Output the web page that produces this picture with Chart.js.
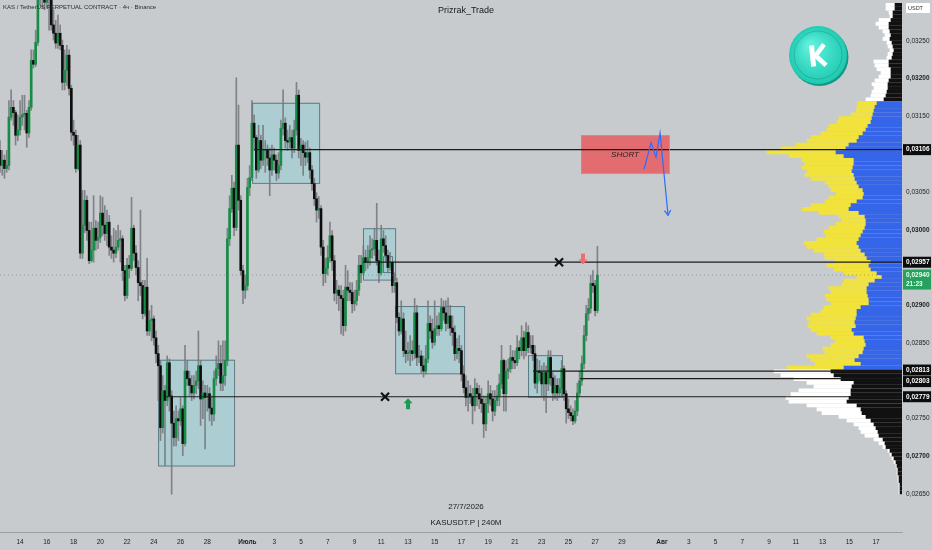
<!DOCTYPE html>
<html>
<head>
<meta charset="utf-8">
<script src="https://cdn.jsdelivr.net/npm/chart.js@4.4.0/dist/chart.umd.min.js"></script>
<style>
  html, body { margin: 0; padding: 0; background: #c8cbce; }
  #wrap { position: relative; width: 932px; height: 550px; }
</style>
</head>
<body>
<div id="wrap"><canvas id="kasChart"></canvas></div>
<script>
// time axis unit: days counted from 1 June 2026 (1 July = 31, 1 Aug = 62)
const firstCandleDay = 12.5;      // 12 June, 12:00
const candleStep = 1 / 6;         // 4h candles
const dayMin = 12.5;
const dayMax = 79.94;
const priceMin = 0.02600;
const priceMax = 0.03304;

// OHLC in 0.00001 USDT; each open is the previous close
const firstOpen = 3105;
const closes = [
  3085,3092,3081,3085,3149,3162,3155,3125,3132,3149,
  3152,3154,3128,3162,3224,3219,3248,3317,3320,3315,
  3301,3311,3308,3271,3260,3247,3260,3244,3195,3211,
  3231,3187,3129,3125,3081,3112,2969,3006,3039,2999,
  2959,2973,3002,2986,2990,3022,3006,2995,3010,2977,
  2973,2969,2977,2986,2988,2946,2913,2953,2949,3002,
  2969,2950,2930,2926,2889,2924,2866,2880,2882,2857,
  2836,2820,2738,2787,2774,2824,2780,2744,2725,2750,
  2747,2763,2717,2813,2803,2794,2784,2794,2800,2820,
  2776,2784,2778,2783,2764,2756,2803,2816,2823,2797,
  2807,2827,2988,3028,3055,3003,3112,3039,2946,2920,
  2926,3056,3069,3141,3122,
  3079,3118,3092,3105,3105,3095,3079,3099,3092,3075,
  3085,3134,3141,3118,3116,3122,3108,3132,3178,3105,
  3112,3102,3096,3102,3079,3061,3041,3026,3028,2977,
  2942,2949,2963,2992,2959,2916,2920,2913,2909,2873,
  2924,2920,2917,2902,2906,2920,2953,2943,2963,2957,
  2963,2973,2975,2986,2959,2943,2988,2979,2966,2950,
  2957,2926,2930,2884,2866,2882,2840,2836,2837,2840,
  2836,2890,2831,2833,2820,2813,2829,2876,2866,2851,
  2869,2873,2869,2897,2890,2876,2886,2870,2864,2836,
  2843,2840,2809,2791,2778,2783,2779,2767,2790,2783,
  2776,2770,2743,2770,2783,2776,2760,2774,2780,2796,
  2827,2783,2813,2816,2831,2827,2824,2844,2840,2857,
  2840,2864,2844,2847,2836,2797,2813,2811,2796,2811,
  2796,2831,2804,2784,2794,2784,2790,2816,2783,2763,
  2758,2754,2747,2760,2784,2800,2823,2860,2889,2896,
  2929,2926,2893,2940
];
const highs = [
  3118,3105,3099,3105,3171,3185,3171,3158,3152,3171,
  3178,3178,3158,3171,3238,3238,3264,3331,3344,3337,
  3331,3331,3324,3317,3291,3277,3284,3271,3251,3238,
  3244,3238,3191,3145,3132,3125,3118,3052,3052,3045,
  3010,3010,3045,3012,3010,3045,3043,3032,3026,3019,
  2992,3002,2999,3006,2999,2992,2953,2962,2966,3043,
  3006,2979,2959,3026,2933,2933,2962,2893,2900,2886,
  2866,2847,2827,2807,2794,2833,2829,2787,2760,2767,
  2760,2778,2767,2847,2827,2813,2807,2807,2813,2866,
  2827,2800,2794,2794,2791,2780,2813,2833,2853,2847,
  2853,2853,3002,3045,3072,3063,3201,3165,3045,2953,
  2940,3068,3085,3171,3152,
  3125,3138,3125,3138,3118,3112,3108,3112,3108,3099,
  3102,3145,3185,3148,3132,3138,3132,3145,3195,3185,
  3121,3118,3116,3118,3108,3085,3068,3049,3044,3032,
  2986,2962,2979,3010,2999,2966,2933,2926,2926,2920,
  2953,2946,2930,2930,2920,2933,2966,2966,2979,2973,
  2979,2992,2988,3002,3035,2973,3006,2999,2992,2973,
  2970,2957,2943,2936,2890,2906,2890,2866,2851,2860,
  2853,2909,2900,2847,2840,2833,2847,2906,2886,2882,
  2906,2886,2890,2909,2906,2906,2910,2900,2886,2873,
  2856,2860,2847,2820,2807,2800,2794,2790,2803,2797,
  2794,2790,2780,2780,2800,2794,2787,2787,2794,2809,
  2847,2829,2827,2829,2847,2840,2840,2860,2853,2873,
  2866,2877,2873,2860,2860,2847,2829,2827,2820,2824,
  2820,2840,2840,2811,2807,2803,2803,2827,2820,2787,
  2776,2767,2763,2774,2797,2813,2833,2873,2900,2909,
  2940,2946,2933,2978
];
const lows = [
  3076,3072,3068,3076,3079,3145,3138,3112,3118,3125,
  3138,3132,3109,3122,3158,3214,3216,3244,3297,3293,
  3291,3293,3264,3264,3251,3240,3240,3238,3185,3185,
  3191,3178,3118,3112,3076,3079,2962,2962,2996,2986,
  2955,2957,2957,2973,2975,2983,2992,2986,2979,2966,
  2962,2957,2963,2973,2957,2933,2906,2909,2936,2946,
  2959,2940,2906,2913,2882,2886,2860,2860,2853,2847,
  2824,2774,2721,2731,2688,2767,2760,2650,2714,2714,
  2721,2741,2701,2714,2794,2780,2774,2776,2783,2790,
  2741,2750,2710,2760,2747,2741,2747,2794,2807,2787,
  2787,2794,2820,2979,3023,2992,2999,3026,2940,2902,
  2909,2920,3045,3065,3105,
  3068,3076,3081,3085,3076,3085,3045,3072,3079,3065,
  3068,3079,3125,3108,3105,3108,3095,3102,3125,3095,
  3085,3072,3085,3089,3068,3052,3032,3010,3015,2966,
  2926,2930,2940,2957,2946,2906,2902,2893,2862,2860,
  2866,2906,2906,2890,2893,2900,2913,2930,2940,2946,
  2949,2953,2962,2966,2953,2930,2940,2970,2957,2943,
  2946,2917,2917,2877,2860,2862,2832,2824,2827,2820,
  2827,2829,2820,2824,2811,2805,2809,2824,2856,2843,
  2847,2860,2860,2866,2880,2866,2869,2860,2847,2827,
  2829,2824,2800,2784,2767,2760,2770,2743,2760,2767,
  2763,2758,2725,2734,2758,2767,2747,2754,2767,2767,
  2790,2760,2760,2803,2811,2816,2816,2820,2829,2833,
  2829,2833,2837,2837,2827,2790,2784,2800,2780,2774,
  2758,2787,2794,2774,2776,2774,2779,2780,2774,2744,
  2750,2747,2742,2744,2754,2780,2794,2816,2853,2880,
  2890,2917,2886,2890
];

// fixed-range volume profile, rows of 0.00005 from the top (centre 0.032975)
const profileTopRow = 0.032975;
const profileStep = 0.00005;
const valueAreaHigh = 0.03170;
const valueAreaLow = 0.02815;
const profileInner = [
  7,7,9,9,11,13,13,12,11,12, 10,9,8,9,10,13,13,11,11,11,
  13,14,14,15,16,18,25,27,28,29, 30,31,34,36,39,43,45,53,56,66,
  58,48,48,49,50,48,47,45,43,39, 38,39,45,51,53,43,37,36,36,37,
  39,41,43,45,43,41,37,35,31,33, 31,25,20,27,33,35,35,34,33,33,
  41,45,45,46,47,46,50,48,38,37, 36,38,39,43,47,41,58,71,68,61,
  48,50,51,51,53,55,45,41,40,36, 31,28,26,24,23,19,17,16,12,10,
  8,6,5,4,4,3,3,2,2,2
];
const profileTotal = [
  16,16,13,12,23,26,23,19,17,19, 15,14,12,14,15,28,27,25,21,23,
  27,30,28,30,31,36,44,45,46,51, 63,65,73,75,81,91,95,106,121,135,
  113,100,97,100,95,97,91,77,73,71, 66,73,77,91,100,83,63,60,66,73,
  78,76,85,98,95,88,78,77,67,75, 68,58,45,58,60,73,71,77,75,71,
  78,81,91,95,93,94,91,85,71,67, 71,79,77,95,91,87,115,128,121,108,
  95,88,103,111,116,113,95,85,80,63, 55,48,43,41,37,28,23,19,14,12,
  10,8,6,5,5,4,4,3,3,3
];

// horizontal levels
const levelPrices = [0.03106, 0.02957, 0.02779, 0.02813, 0.02803];
const levelStarts = [31.50, 39.64, 24.84, 52.36, 55.87];
const lastPrice = 0.02940;

// consolidation boxes
const zoneStart  = [24.32, 31.35, 39.64, 41.14, 42.04, 51.98];
const zoneEnd    = [30.00, 36.36, 42.04, 41.81, 47.20, 54.52];
const zoneTop    = [0.02828, 0.03168, 0.03002, 0.02965, 0.02899, 0.02834];
const zoneBottom = [0.02688, 0.03062, 0.02934, 0.02944, 0.02810, 0.02779];

// marks
const crossDays = [41.29, 54.30];
const crossPrices = [0.02779, 0.02957];
const upArrowDay = 43.01, upArrowPrice = 0.02769;
const downArrowDay = 56.09, downArrowPrice = 0.02962;
const shortBox = { start: 55.94, end: 62.52, top: 0.03125, bottom: 0.03075 };
const pathDays = [60.65, 61.18, 61.55, 61.85, 62.45];
const pathPrices = [0.03080, 0.03115, 0.03096, 0.03128, 0.03019];

// axis ticks
const dayTicks = [14,16,18,20,22,24,26,28,31,33,35,37,39,41,43,45,47,49,51,53,55,57,59,62,64,66,68,70,72,74,76,78];
const dayLabels = ['14','16','18','20','22','24','26','28','Июль','3','5','7','9','11','13','15','17','19','21','23','25','27','29','Авг','3','5','7','9','11','13','15','17'];
const priceTicks = [0.03250, 0.03200, 0.03150, 0.03050, 0.03000, 0.02900, 0.02850, 0.02750, 0.02700, 0.02650];

const FONT = 'Liberation Sans';
Chart.defaults.font.family = FONT;

const unit = v => v / 1e5;
const opens = [firstOpen].concat(closes.slice(0, -1));
const candleDay = i => firstCandleDay + i * candleStep;

const wickData = closes.map((c, i) => ({ x: candleDay(i), y: [unit(lows[i]), unit(highs[i])] }));
const bodyData = closes.map((c, i) => ({ x: candleDay(i), y: [unit(opens[i]), unit(c)] }));
const bodyColors = closes.map((c, i) => c >= opens[i] ? '#178c47' : '#0e0e0e');

const rowPrice = k => profileTopRow - k * profileStep;
const inVA = k => rowPrice(k) <= valueAreaHigh && rowPrice(k) >= valueAreaLow;
const profileInnerData = profileInner.map((v, k) => ({ y: rowPrice(k), x: [0, v] }));
const profileOuterData = profileTotal.map((v, k) => ({ y: rowPrice(k), x: [profileInner[k], v] }));

const levelSets = levelPrices.map((p, i) => ({
  type: 'line',
  data: [{ x: levelStarts[i], y: p }, { x: dayMax, y: p }],
  borderColor: '#1b1b1b',
  borderWidth: 1.2,
  pointRadius: 0,
  xAxisID: 'x', yAxisID: 'y',
  order: 2
}));

const fmt = v => v.toFixed(5).replace('.', ',');
const isRound = v => Math.abs(v * 1000 - Math.round(v * 1000)) < 1e-6;
const monthNames = ['Июль', 'Авг'];

const overlay = {
  id: 'overlay',
  beforeDatasetsDraw(chart) {
    const { ctx } = chart;
    const px = t => chart.scales.x.getPixelForValue(t);
    const py = p => chart.scales.y.getPixelForValue(p);
    ctx.save();
    zoneStart.forEach((s, i) => {
      const x0 = px(s), x1 = px(zoneEnd[i]), y0 = py(zoneTop[i]), y1 = py(zoneBottom[i]);
      ctx.fillStyle = 'rgba(153,206,212,0.6)';
      ctx.fillRect(x0, y0, x1 - x0, y1 - y0);
      ctx.strokeStyle = 'rgba(60,95,105,0.75)';
      ctx.lineWidth = 1;
      ctx.strokeRect(x0 + 0.5, y0 + 0.5, x1 - x0, y1 - y0);
    });
    ctx.restore();
  },
  afterDatasetsDraw(chart) {
    const { ctx } = chart;
    const px = t => chart.scales.x.getPixelForValue(t);
    const py = p => chart.scales.y.getPixelForValue(p);
    ctx.save();

    // crosses
    ctx.strokeStyle = '#111';
    ctx.lineWidth = 2.2;
    crossDays.forEach((d, i) => {
      const x = px(d), y = py(crossPrices[i]);
      ctx.beginPath();
      ctx.moveTo(x - 4, y - 4); ctx.lineTo(x + 4, y + 4);
      ctx.moveTo(x + 4, y - 4); ctx.lineTo(x - 4, y + 4);
      ctx.stroke();
    });

    // up arrow
    let x = px(upArrowDay), y = py(upArrowPrice);
    ctx.fillStyle = '#1c9a53';
    ctx.beginPath();
    ctx.moveTo(x, y - 6); ctx.lineTo(x + 4.5, y - 1); ctx.lineTo(x + 2, y - 1);
    ctx.lineTo(x + 2, y + 5); ctx.lineTo(x - 2, y + 5); ctx.lineTo(x - 2, y - 1);
    ctx.lineTo(x - 4.5, y - 1); ctx.closePath(); ctx.fill();

    // down arrow
    x = px(downArrowDay); y = py(downArrowPrice);
    ctx.fillStyle = '#ee6d71';
    ctx.beginPath();
    ctx.moveTo(x, y + 6); ctx.lineTo(x + 4.5, y + 1); ctx.lineTo(x + 2, y + 1);
    ctx.lineTo(x + 2, y - 5); ctx.lineTo(x - 2, y - 5); ctx.lineTo(x - 2, y + 1);
    ctx.lineTo(x - 4.5, y + 1); ctx.closePath(); ctx.fill();

    // SHORT zone
    const sx0 = px(shortBox.start), sx1 = px(shortBox.end);
    const sy0 = py(shortBox.top), sy1 = py(shortBox.bottom);
    ctx.fillStyle = 'rgba(228,100,104,0.93)';
    ctx.fillRect(sx0, sy0, sx1 - sx0, sy1 - sy0);
    ctx.strokeStyle = 'rgba(200,140,130,0.9)';
    ctx.lineWidth = 1;
    ctx.strokeRect(sx0 + 0.5, sy0 + 0.5, sx1 - sx0, sy1 - sy0);
    ctx.strokeStyle = '#1b1b1b';
    ctx.lineWidth = 1.2;
    ctx.beginPath(); ctx.moveTo(sx0, py(levelPrices[0])); ctx.lineTo(sx1, py(levelPrices[0])); ctx.stroke();
    ctx.fillStyle = '#2a2020';
    ctx.font = 'italic 8px ' + FONT;
    ctx.textAlign = 'center';
    ctx.textBaseline = 'middle';
    ctx.fillText('SHORT', (sx0 + sx1) / 2, (sy0 + sy1) / 2 + 1);

    // projected path
    ctx.strokeStyle = '#2f6bff';
    ctx.lineWidth = 1.2;
    ctx.beginPath();
    pathDays.forEach((d, i) => {
      const X = px(d), Y = py(pathPrices[i]);
      if (i === 0) ctx.moveTo(X, Y); else ctx.lineTo(X, Y);
    });
    ctx.stroke();
    const n = pathDays.length;
    const ex = px(pathDays[n - 1]), ey = py(pathPrices[n - 1]);
    const ang = Math.atan2(ey - py(pathPrices[n - 2]), ex - px(pathDays[n - 2]));
    ctx.beginPath();
    ctx.moveTo(ex - 6 * Math.cos(ang - 0.55), ey - 6 * Math.sin(ang - 0.55));
    ctx.lineTo(ex, ey);
    ctx.lineTo(ex - 6 * Math.cos(ang + 0.55), ey - 6 * Math.sin(ang + 0.55));
    ctx.stroke();
    ctx.restore();
  },
  afterDraw(chart) {
    const { ctx, chartArea } = chart;
    const py = p => chart.scales.y.getPixelForValue(p);
    const W = chart.width;
    ctx.save();

    // texts
    ctx.textBaseline = 'middle';
    ctx.textAlign = 'left';
    ctx.fillStyle = '#2b2b2b';
    ctx.font = '6px ' + FONT;
    ctx.fillText('KAS / TetherUS PERPETUAL CONTRACT · 4ч · Binance', 3, 7);
    ctx.textAlign = 'center';
    ctx.fillStyle = '#1a1a1a';
    ctx.font = '9px ' + FONT;
    ctx.fillText('Prizrak_Trade', 466, 11);
    ctx.font = '8px ' + FONT;
    ctx.fillText('27/7/2026', 466, 507);
    ctx.fillText('KASUSDT.P | 240M', 466, 523);

    // logo
    const cx = 818, cy = 55, r = 29;
    ctx.beginPath(); ctx.arc(cx + 1.5, cy + 2, r, 0, Math.PI * 2);
    ctx.fillStyle = '#0f9a84'; ctx.fill();
    const g = ctx.createRadialGradient(cx - 8, cy - 10, 3, cx, cy, r);
    g.addColorStop(0, '#5ff0dd'); g.addColorStop(1, '#1fcab1');
    ctx.beginPath(); ctx.arc(cx, cy, r, 0, Math.PI * 2);
    ctx.fillStyle = g; ctx.fill();
    ctx.beginPath(); ctx.arc(cx, cy, r - 5, 0, Math.PI * 2);
    ctx.strokeStyle = 'rgba(0,90,80,0.25)'; ctx.lineWidth = 1; ctx.stroke();
    ctx.save();
    ctx.translate(cx, cy); ctx.rotate(-0.1);
    ctx.fillStyle = '#ffffff';
    ctx.fillRect(-8, -10, 5, 21);
    ctx.strokeStyle = '#ffffff'; ctx.lineWidth = 4.6; ctx.lineCap = 'butt';
    ctx.beginPath(); ctx.moveTo(-3, 1); ctx.lineTo(7, -10); ctx.stroke();
    ctx.beginPath(); ctx.moveTo(-3, 0); ctx.lineTo(7, 11); ctx.stroke();
    ctx.restore();

    // price axis labels
    const lx = chartArea.right + 1;
    const box = (p, dy, bg, fg, lines) => {
      const y = py(p) + dy;
      const h = lines.length > 1 ? 20 : 11;
      ctx.fillStyle = bg;
      ctx.fillRect(lx, y - 5.5, W - lx - 1, h);
      ctx.fillStyle = fg;
      ctx.textAlign = 'left';
      ctx.font = 'bold 6.5px ' + FONT;
      lines.forEach((t, i) => ctx.fillText(t, lx + 3, y + i * 9));
    };
    box(levelPrices[0], 0, '#0c0c0c', '#ffffff', [fmt(levelPrices[0])]);
    box(lastPrice, 0, '#24a25e', '#eaffef', [fmt(lastPrice), '21:23']);
    box(levelPrices[1], 0, '#0c0c0c', '#ffffff', [fmt(levelPrices[1])]);
    box(levelPrices[3], -1, '#0c0c0c', '#ffffff', [fmt(levelPrices[3])]);
    box(levelPrices[4], 3, '#0c0c0c', '#ffffff', [fmt(levelPrices[4])]);
    box(levelPrices[2], 0, '#0c0c0c', '#ffffff', [fmt(levelPrices[2])]);

    // currency box
    ctx.fillStyle = '#ffffff';
    ctx.fillRect(lx + 3, 3, 24, 10);
    ctx.fillStyle = '#333';
    ctx.font = '5.5px ' + FONT;
    ctx.fillText('USDT', lx + 5, 8);
    ctx.restore();
  }
};

new Chart(document.getElementById('kasChart'), {
  type: 'bar',
  data: {
    datasets: [
      {
        type: 'bar',
        indexAxis: 'y',
        data: profileOuterData,
        backgroundColor: profileTotal.map((v, k) => inVA(k) ? '#f2e23c' : '#ffffff'),
        barThickness: 3.2,
        grouped: false,
        xAxisID: 'xv', yAxisID: 'y',
        order: 7
      },
      {
        type: 'bar',
        indexAxis: 'y',
        data: profileInnerData,
        backgroundColor: profileInner.map((v, k) => inVA(k) ? '#3565e8' : '#111111'),
        barThickness: 3.2,
        grouped: false,
        xAxisID: 'xv', yAxisID: 'y',
        order: 6
      },
      {
        type: 'bar',
        data: wickData,
        backgroundColor: 'rgba(115,118,122,0.85)',
        barThickness: 1,
        grouped: false,
        xAxisID: 'x', yAxisID: 'y',
        order: 5
      },
      {
        type: 'bar',
        data: bodyData,
        backgroundColor: bodyColors,
        barThickness: 2,
        minBarLength: 1,
        grouped: false,
        xAxisID: 'x', yAxisID: 'y',
        order: 4
      },
      ...levelSets,
      {
        type: 'line',
        data: [{ x: dayMin, y: lastPrice }, { x: dayMax, y: lastPrice }],
        borderColor: 'rgba(90,100,110,0.45)',
        borderWidth: 1,
        borderDash: [1, 3],
        pointRadius: 0,
        xAxisID: 'x', yAxisID: 'y',
        order: 3
      }
    ]
  },
  options: {
    responsive: true,
    maintainAspectRatio: false,
    animation: false,
    events: [],
    layout: { padding: 0 },
    plugins: {
      legend: { display: false },
      tooltip: { enabled: false }
    },
    scales: {
      x: {
        type: 'linear',
        position: 'bottom',
        min: dayMin,
        max: dayMax,
        offset: false,
        grid: { display: false, drawTicks: false },
        border: { display: true, color: '#9a9da1', width: 1 },
        afterBuildTicks: s => { s.ticks = dayTicks.map(v => ({ value: v })); },
        afterFit: s => { s.height = 18; s.paddingLeft = 0; s.paddingRight = 0; },
        ticks: {
          autoSkip: false,
          maxRotation: 0,
          padding: 6,
          color: '#1c1c1c',
          font: c => ({ size: 6.5, weight: (c && monthNames.includes(dayLabels[c.index])) ? 'bold' : 'normal' }),
          callback: (v, i) => dayLabels[i]
        }
      },
      xv: {
        type: 'linear',
        axis: 'x',
        display: false,
        reverse: true,
        min: 0,
        max: 902,
        offset: false,
        grid: { display: false }
      },
      y: {
        type: 'linear',
        position: 'right',
        min: priceMin,
        max: priceMax,
        beginAtZero: false,
        offset: false,
        grid: { display: false, drawTicks: false },
        border: { display: false },
        afterBuildTicks: s => { s.ticks = priceTicks.map(v => ({ value: v })); },
        afterFit: s => { s.width = 30; s.paddingTop = 0; s.paddingBottom = 0; },
        ticks: {
          padding: 4,
          color: '#1c1c1c',
          font: c => ({ size: 6.5, weight: (c && c.tick && isRound(c.tick.value)) ? 'bold' : 'normal' }),
          callback: v => fmt(v)
        }
      }
    }
  },
  plugins: [overlay]
});
</script>
</body>
</html>
